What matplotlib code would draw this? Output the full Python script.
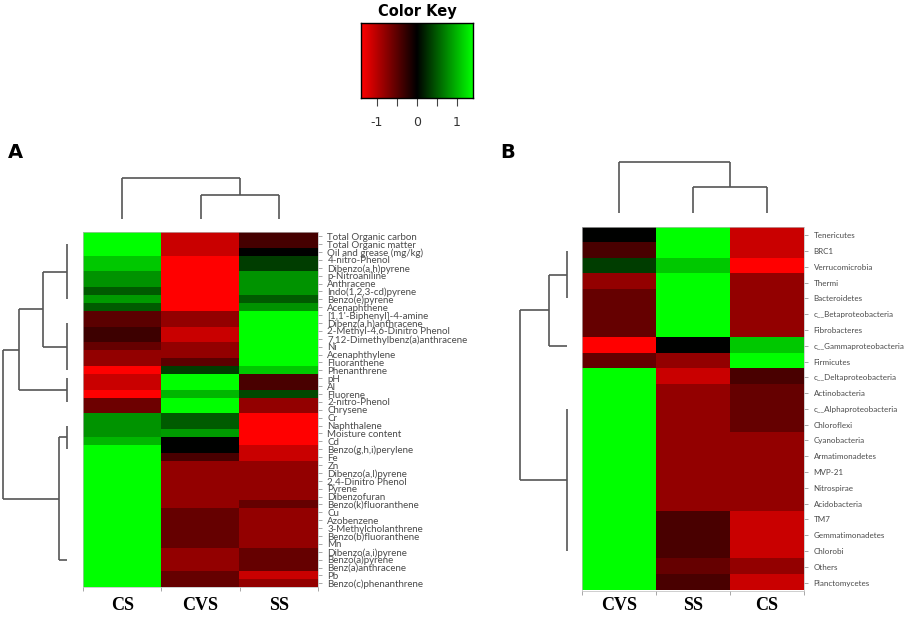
import numpy as np
import matplotlib
matplotlib.use("Agg")
import matplotlib.pyplot as plt
from matplotlib.colors import LinearSegmentedColormap

# ---- panel A data (columns CS, CVS, SS) ----
cols_a = ["CS", "CVS", "SS"]
rows_a = ["Total Organic carbon", "Total Organic matter", "Oil and grease (mg/kg)",
          "4-nitro-Phenol", "Dibenzo(a,h)pyrene", "p-Nitroaniline", "Anthracene",
          "Indo(1,2,3-cd)pyrene", "Benzo(e)pyrene", "Acenaphthene",
          "[1,1'-Biphenyl]-4-amine", "Dibenz(a,h)anthracene", "2-Methyl-4,6-Dinitro Phenol",
          "7,12-Dimethylbenz(a)anthracene", "Ni", "Acenaphthylene", "Fluoranthene",
          "Phenanthrene", "pH", "Al", "Fluorene", "2-nitro-Phenol", "Chrysene", "Cr",
          "Naphthalene", "Moisture content", "Cd", "Benzo(g,h,i)perylene", "Fe", "Zn",
          "Dibenzo(a,l)pyrene", "2,4-Dinitro Phenol", "Pyrene", "Dibenzofuran",
          "Benzo(k)fluoranthene", "Cu", "Azobenzene", "3-Methylcholanthrene",
          "Benzo(b)fluoranthene", "Mn", "Dibenzo(a,i)pyrene", "Benzo(a)pyrene",
          "Benz(a)anthracene", "Pb", "Benzo(c)phenanthrene"]
cs_a = [1.5, 1.5, 1.5, 1.1, 1.1, 0.8, 0.8, 0.5, 0.85, 0.5,
        -0.5, -0.5, -0.33, -0.33, -0.55, -0.8, -0.8, -1.5, -1.1, -1.1,
        -1.5, -0.6, -0.6, 0.8, 0.8, 0.8, 1.0, 1.5, 1.5, 1.5,
        1.5, 1.5, 1.5, 1.5, 1.5, 1.5, 1.5, 1.5, 1.5, 1.5,
        1.5, 1.5, 1.5, 1.5, 1.5]
cvs_a = [-1.1, -1.1, -1.1, -1.5, -1.5, -1.5, -1.5, -1.5, -1.5, -1.5,
         -0.8, -0.8, -1.1, -1.1, -0.8, -0.8, -0.5, 0.33, 1.5, 1.5,
         1.0, 1.5, 1.5, 0.5, 0.5, 0.85, 0.0, 0.0, -0.4, -0.8,
         -0.8, -0.8, -0.8, -0.8, -0.8, -0.55, -0.55, -0.55, -0.55, -0.55,
         -0.8, -0.8, -0.8, -0.55, -0.55]
ss_a = [-0.38, -0.38, 0.0, 0.33, 0.33, 0.8, 0.8, 0.8, 0.5, 0.8,
        1.5, 1.5, 1.5, 1.5, 1.5, 1.5, 1.5, 1.1, -0.4, -0.4,
        0.4, -0.8, -0.8, -1.5, -1.5, -1.5, -1.5, -1.1, -1.1, -0.8,
        -0.8, -0.8, -0.8, -0.8, -0.55, -0.8, -0.8, -0.8, -0.8, -0.8,
        -0.55, -0.55, -0.55, -1.1, -0.8]

# ---- panel B data (columns CVS, SS, CS) ----
cols_b = ["CVS", "SS", "CS"]
rows_b = ["Tenericutes", "BRC1", "Verrucomicrobia", "Thermi", "Bacteroidetes",
          "c__Betaproteobacteria", "Fibrobacteres", "c__Gammaproteobacteria", "Firmicutes",
          "c__Deltaproteobacteria", "Actinobacteria", "c__Alphaproteobacteria", "Chloroflexi",
          "Cyanobacteria", "Armatimonadetes", "MVP-21", "Nitrospirae", "Acidobacteria",
          "TM7", "Gemmatimonadetes", "Chlorobi", "Others", "Planctomycetes"]
cvs_b = [0.0, -0.4, 0.33, -0.8, -0.55, -0.55, -0.55, -1.5, -0.55, 1.5,
         1.5, 1.5, 1.5, 1.5, 1.5, 1.5, 1.5, 1.5, 1.5, 1.5, 1.5, 1.5, 1.5]
ss_b = [1.5, 1.5, 1.1, 1.5, 1.5, 1.5, 1.5, 0.0, -0.8, -1.1,
        -0.8, -0.8, -0.8, -0.8, -0.8, -0.8, -0.8, -0.8, -0.4, -0.4, -0.4, -0.55, -0.4]
cs_b = [-1.1, -1.1, -1.5, -0.8, -0.8, -0.8, -0.8, 1.1, 1.5, -0.4,
        -0.55, -0.55, -0.55, -0.8, -0.8, -0.8, -0.8, -0.8, -1.1, -1.1, -1.1, -0.8, -1.1]

# dendrograms: (height, [children]); an int is a leaf (row/column index)
row_tree_a = (64, [(48, [(24, [(0, list(range(1, 9))), (0, list(range(11, 18)))]),
                         (0, list(range(18, 22)))]),
                   (8, [(0, list(range(24, 28))), 41])])
col_tree_a = (41, [0, (24, [1, 2])])
row_tree_b = (47, [(18, [(0, [1, 2, 3, 4]), 7]), (0, list(range(11, 21)))])
col_tree_b = (51, [0, (26, [1, 2])])

key_min, key_max = -1.4, 1.4
key_ticks = [-1, -0.5, 0, 0.5, 1]
key_labels = ["-1", "", "0", "", "1"]

W, H = 913, 617
fig = plt.figure(figsize=(W / 100, H / 100), dpi=100)
cmap = LinearSegmentedColormap.from_list("redgreen", ["#ff0000", "#000000", "#00ff00"])
line_col = "#555555"


def px_axes(x0, y0, x1, y1):
    return fig.add_axes([x0 / W, 1 - y1 / H, (x1 - x0) / W, (y1 - y0) / H])


def draw_tree(ax, node, side):
    if isinstance(node, int):
        return node, 0
    h, kids = node
    res = [draw_tree(ax, k, side) for k in kids]
    ps = [r[0] for r in res]
    lo, hi = min(ps), max(ps)
    segs = [((lo, h), (hi, h))]
    for p, kh in res:
        if kh != h:
            segs.append(((p, kh), (p, h)))
    for (a, b), (c, d) in segs:
        if side == "left":
            ax.plot([b, d], [a, c], color=line_col, lw=1.2, solid_capstyle="butt")
        else:
            ax.plot([a, c], [b, d], color=line_col, lw=1.2, solid_capstyle="butt")
    return (lo + hi) / 2, h


def heatmap(ax, mat, rlabels, clabels, rsize, cpad):
    ax.imshow(mat, aspect="auto", cmap=cmap, vmin=key_min, vmax=key_max,
              interpolation="nearest")
    ax.yaxis.tick_right()
    ax.set_yticks(range(len(rlabels)))
    ax.set_yticklabels(rlabels, fontsize=rsize, color="#4a4a4a", family="Lato")
    ax.tick_params(axis="y", length=3, width=0.6, color="#999999", pad=4)
    ax.set_xticks(np.arange(len(clabels) + 1) - 0.5)
    ax.set_xticklabels([])
    ax.set_xticks(range(len(clabels)), minor=True)
    ax.set_xticklabels(clabels, minor=True, fontsize=13, fontweight="bold",
                       family="Liberation Serif")
    ax.tick_params(axis="x", which="major", length=3, width=0.6, color="#999999")
    ax.tick_params(axis="x", which="minor", length=0, pad=cpad)
    for s in ax.spines.values():
        s.set_color("#bbbbbb")
        s.set_linewidth(0.5)


# ---- panel A ----
mat_a = np.column_stack([cs_a, cvs_a, ss_a])
ax_a = px_axes(83.3, 232.3, 317.7, 587.3)
heatmap(ax_a, mat_a, rows_a, cols_a, 7, 7)

ax_ra = px_axes(0, 232.3, 83.3, 587.3)
draw_tree(ax_ra, row_tree_a, "left")
ax_ra.set_xlim(66.7, -16.6)
ax_ra.set_ylim(len(rows_a) - 0.5, -0.5)
ax_ra.axis("off")

ax_ca = px_axes(83.3, 165, 317.7, 232.3)
draw_tree(ax_ca, col_tree_a, "top")
ax_ca.set_xlim(-0.5, len(cols_a) - 0.5)
ax_ca.set_ylim(-13.3, 54)
ax_ca.axis("off")

# ---- panel B ----
mat_b = np.column_stack([cvs_b, ss_b, cs_b])
ax_b = px_axes(582.3, 227.3, 804, 590.5)
heatmap(ax_b, mat_b, rows_b, cols_b, 5.8, 4.5)

ax_rb = px_axes(500, 227.3, 582.3, 590.5)
draw_tree(ax_rb, row_tree_b, "left")
ax_rb.set_xlim(67, -15.3)
ax_rb.set_ylim(len(rows_b) - 0.5, -0.5)
ax_rb.axis("off")

ax_cb = px_axes(582.3, 150, 804, 227.3)
draw_tree(ax_cb, col_tree_b, "top")
ax_cb.set_xlim(-0.5, len(cols_b) - 0.5)
ax_cb.set_ylim(-14.3, 63)
ax_cb.axis("off")

# ---- colour key ----
ax_k = px_axes(361, 23, 473, 98)
ax_k.imshow(np.linspace(key_min, key_max, 256)[None, :], aspect="auto", cmap=cmap,
            vmin=key_min, vmax=key_max, extent=[key_min, key_max, 0, 1])
ax_k.set_yticks([])
ax_k.set_xticks(key_ticks)
ax_k.set_xticklabels(key_labels, fontsize=9, color="#333333")
ax_k.tick_params(axis="x", length=6, width=0.8, color="#444444", pad=7)
for s in ax_k.spines.values():
    s.set_linewidth(1)
ax_k.set_title("Color Key", fontsize=10.5, fontweight="bold", pad=5)

fig.text(8 / W, 1 - 152 / H, "A", fontsize=14, fontweight="bold", va="center")
fig.text(500 / W, 1 - 152 / H, "B", fontsize=14, fontweight="bold", va="center")

fig.savefig("out.png", dpi=100)
